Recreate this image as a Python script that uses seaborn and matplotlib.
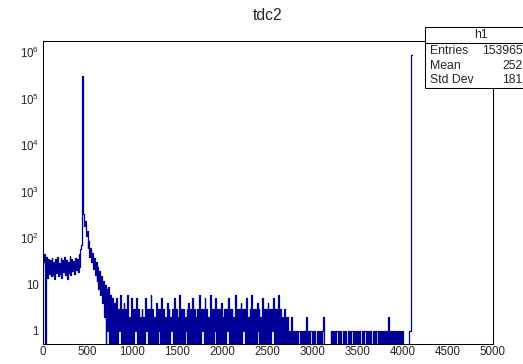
import numpy as np
import pandas as pd
import matplotlib
matplotlib.use('Agg')
import matplotlib.pyplot as plt
import seaborn as sns
from matplotlib.ticker import FixedLocator, LogLocator, MultipleLocator, NullFormatter
from matplotlib.patches import Rectangle
from matplotlib.lines import Line2D

# histogram tdc2, 10-unit bins from 0 to 4100 (counts)
bin_width = 10

# 0-430: flat noisy pedestal
counts_flat = [22, 30, 45, 0, 40, 14, 36, 17, 33, 15,
               38, 16, 31, 13, 35, 18, 40, 15, 29, 17,
               37, 14, 33, 19, 39, 16, 34, 13, 30, 18,
               41, 16, 36, 20, 32, 17, 38, 21, 35, 19,
               45, 24, 58]

# 430-800: main peak and its tail
counts_peak = [70, 300000, 330, 180, 230, 110, 140, 60, 85, 40,
               62, 30, 48, 22, 38, 16, 30, 12, 24, 8,
               20, 6, 15, 4, 12, 2, 10, 0, 8, 1,
               9, 0, 6, 0, 5, 0, 4]

# 800-2700: low-count band
counts_mid = [3, 0, 5, 0, 3, 1, 6, 0, 3, 0,
              4, 0, 3, 0, 6, 0, 2, 0, 5, 0,
              3, 0, 3, 1, 5, 0, 3, 0, 2, 0,
              3, 0, 2, 0, 5, 1, 3, 0, 3, 0,
              6, 0, 3, 0, 2, 0, 4, 0, 3, 1,
              3, 0, 5, 0, 3, 0, 2, 0, 4, 0,
              3, 0, 2, 1, 3, 0, 5, 0, 3, 0,
              2, 0, 6, 0, 3, 0, 3, 0, 2, 1,
              3, 0, 4, 0, 3, 0, 5, 0, 3, 0,
              2, 0, 3, 0, 6, 0, 3, 1, 3, 0,
              5, 0, 3, 0, 2, 0, 6, 0, 3, 0,
              3, 1, 5, 0, 3, 0, 3, 0, 4, 0,
              2, 0, 3, 0, 3, 1, 5, 0, 3, 0,
              3, 0, 2, 0, 6, 0, 3, 0, 3, 0,
              4, 0, 3, 1, 3, 0, 5, 0, 2, 0,
              3, 0, 6, 0, 3, 0, 3, 0, 4, 1,
              3, 0, 2, 0, 5, 0, 3, 0, 3, 0,
              4, 0, 3, 0, 3, 1, 5, 0, 3, 0,
              3, 0, 6, 0, 3, 0, 2, 0, 3, 0]

# 2700-4100: sparse tail plus the overflow spike at ~4095
counts_tail = [2, 0, 2, 0, 1, 0, 2, 0, 1, 0,
               1, 0, 1, 0, 1, 1, 0, 1, 0, 1,
               0, 1, 0, 2, 0, 1, 0, 1, 1, 0,
               1, 0, 1, 0, 0, 1, 0, 1, 0, 1,
               0, 1, 2, 0, 0, 0, 0, 0, 0, 0,
               1, 0, 1, 0, 1, 0, 1, 1, 0, 1,
               0, 1, 0, 0, 1, 0, 1, 0, 0, 1,
               0, 1, 0, 1, 1, 0, 1, 0, 1, 0,
               1, 0, 1, 0, 0, 1, 0, 1, 1, 0,
               1, 0, 1, 0, 1, 0, 0, 1, 0, 1,
               0, 1, 1, 0, 1, 0, 1, 0, 1, 0,
               1, 0, 1, 0, 2, 0, 1, 0, 1, 0,
               1, 1, 0, 1, 0, 1, 0, 1, 0, 1,
               1, 0, 0, 0, 0, 0, 0, 1, 1, 875000]

y_ticks = [1, 10, 100, 1e3, 1e4, 1e5, 1e6]
y_labels = ['1', '10', r'$\mathregular{10^{2}}$', r'$\mathregular{10^{3}}$',
            r'$\mathregular{10^{4}}$', r'$\mathregular{10^{5}}$', r'$\mathregular{10^{6}}$']

stats = [('Entries', '153965'), ('Mean', '252'), ('Std Dev', '181')]

counts = counts_flat + counts_peak + counts_mid + counts_tail
n_bins = len(counts)
df = pd.DataFrame({'tdc': bin_width * np.arange(n_bins) + bin_width / 2, 'n': counts})

sns.set_style('white')
plt.rcParams['font.family'] = ['Liberation Sans', 'DejaVu Sans']

W, H = 523, 364
fig = plt.figure(figsize=(W / 100, H / 100), dpi=100)
ax = fig.add_axes([42.5 / W, 1 - 344 / H, (492.5 - 42.5) / W, (344 - 41) / H])

sns.histplot(data=df, x='tdc', weights='n', binwidth=bin_width,
             binrange=(0, bin_width * n_bins), element='step', fill=False,
             color='#000099', linewidth=0.9, ax=ax)
ax.set_yscale('log', nonpositive='clip')
ax.set_xlim(0, 5000)
ax.set_ylim(0.525, 1.73e6)
ax.set_xlabel('')
ax.set_ylabel('')

ax.xaxis.set_major_locator(MultipleLocator(500))
ax.xaxis.set_minor_locator(MultipleLocator(100))
ax.yaxis.set_major_locator(FixedLocator(y_ticks))
ax.set_yticklabels(y_labels)
ax.yaxis.set_minor_locator(LogLocator(base=10, subs=np.arange(2, 10)))
ax.yaxis.set_minor_formatter(NullFormatter())

ax.tick_params(axis='both', which='both', direction='in', top=False, right=False,
               width=0.75, color='black', labelsize=8.3)
ax.tick_params(axis='x', which='major', length=6.3, pad=1.5)
ax.tick_params(axis='x', which='minor', length=3.4)
ax.tick_params(axis='y', which='major', length=9.5, pad=2.5)
ax.tick_params(axis='y', which='minor', length=5)
for s in ax.spines.values():
    s.set_color('black')
    s.set_linewidth(0.75)

# title and stats box, in pixel positions
fig.text(267.5 / W, 1 - 15 / H, 'tdc2', ha='center', va='center', fontsize=11.3)

fig.patches.append(Rectangle((425 / W, 1 - 88 / H), (545 - 425) / W, (88 - 27) / H,
                             transform=fig.transFigure, facecolor='white',
                             edgecolor='black', linewidth=0.75, zorder=5))
fig.lines.append(Line2D([425 / W, 1], [1 - 43 / H, 1 - 43 / H], transform=fig.transFigure,
                        color='black', linewidth=0.75, zorder=6))
fig.text(481 / W, 1 - 35.5 / H, 'h1', ha='center', va='center', fontsize=8.8, zorder=7)
for i, (name, val) in enumerate(stats):
    y = 1 - (51 + 14.7 * i) / H
    fig.text(430 / W, y, name, ha='left', va='center', fontsize=8.8, zorder=7)
    fig.text(522.5 / W, y, val, ha='right', va='center', fontsize=8.8, zorder=7)

fig.savefig('out.png', dpi=100)
